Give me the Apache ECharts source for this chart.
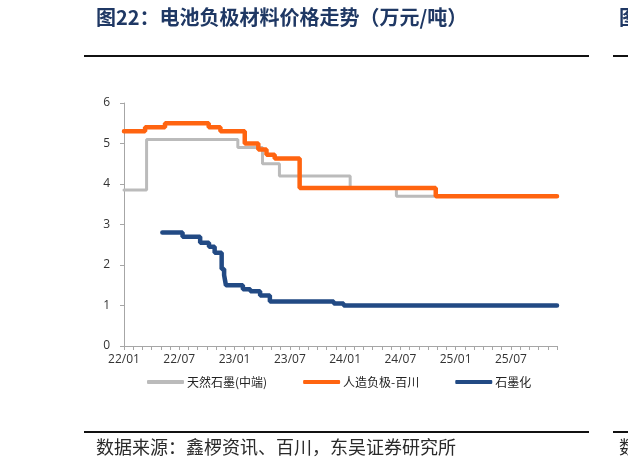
<!DOCTYPE html>
<html>
<head>
<meta charset="utf-8">
<script src="https://cdn.jsdelivr.net/npm/echarts@6/dist/echarts.min.js"></script>
<style>
html,body{margin:0;padding:0;background:#fff;}
#chart{width:628px;height:469px;}
</style>
</head>
<body>
<div id="chart"></div>
<script>
// ---- data (date of change, new price in 万元/吨) ----
const xTickLabels = ['22/01','22/07','23/01','23/07','24/01','24/07','25/01','25/07'];
const naturalDates  = ['2022-01-01','2022-03-15','2023-01-12','2023-04-02','2023-05-28','2024-01-18','2024-06-18','2025-12-01'];
const naturalValues = [3.85, 5.1, 4.9, 4.5, 4.2, 3.9, 3.7, 3.7];
const artificialDates  = ['2022-01-01','2022-03-10','2022-05-15','2022-10-07','2022-11-15','2023-02-04','2023-03-19','2023-04-15','2023-05-12','2023-08-03','2024-10-27','2025-12-01'];
const artificialValues = [5.3, 5.4, 5.5, 5.4, 5.3, 5.0, 4.85, 4.72, 4.63, 3.9, 3.7, 3.7];
const graphitDates  = ['2022-05-06','2022-07-12','2022-09-09','2022-10-08','2022-10-27','2022-11-19','2022-11-27','2022-12-03','2023-01-29','2023-02-21','2023-03-25','2023-04-26','2023-11-24','2023-12-27','2025-12-01'];
const graphitValues = [2.8, 2.7, 2.55, 2.45, 2.3, 1.9, 1.75, 1.5, 1.4, 1.35, 1.25, 1.1, 1.05, 1.0, 1.0];
const seriesNames = ['天然石墨(中端)','人造负极-百川','石墨化'];

function toMonth(s){
  const [y,m,d] = s.split('-').map(Number);
  const dim = new Date(y, m, 0).getDate();
  return (y-2022)*12 + (m-1) + (d-1)/dim;
}
function pairs(ds, vs){ return ds.map((d,i)=>[toMonth(d), vs[i]]); }

const chart = echarts.init(document.getElementById('chart'), null, {renderer:'canvas'});
const cjk = '"Noto Sans CJK SC", sans-serif';
const numFont = '"Open Sans", "Noto Sans", sans-serif';

chart.setOption({
  backgroundColor:'#ffffff',
  animation:false,
  title:{
    text:'图22：电池负极材料价格走势（万元/吨）',
    left:96, top:7, padding:0,
    textStyle:{fontFamily:cjk, fontSize:20, fontWeight:'bold', color:'#1F3864'}
  },
  graphic:[
    {type:'line', shape:{x1:84,y1:56,x2:589,y2:56}, style:{stroke:'#111',lineWidth:2}},
    {type:'line', shape:{x1:613,y1:56,x2:628,y2:56}, style:{stroke:'#111',lineWidth:2}},
    {type:'line', shape:{x1:84,y1:432,x2:589,y2:432}, style:{stroke:'#111',lineWidth:2}},
    {type:'line', shape:{x1:613,y1:432,x2:628,y2:432}, style:{stroke:'#111',lineWidth:2}},
    {type:'text', left:96, top:438, style:{text:'数据来源：鑫椤资讯、百川，东吴证券研究所', font:'18px "Noto Sans CJK SC"', fill:'#2a2a2a'}},
    {type:'text', left:619, top:7, style:{text:'图', font:'bold 20px "Noto Sans CJK SC"', fill:'#1F3864'}},
    {type:'text', left:619, top:438, style:{text:'数', font:'18px "Noto Sans CJK SC"', fill:'#2a2a2a'}}
  ],
  legend:{
    left:147, top:376, padding:0,
    itemWidth:37, itemHeight:4, itemGap:36,
    icon:'roundRect',
    textStyle:{fontFamily:cjk, fontSize:12, color:'#222', padding:[0,0,0,-2]},
    data:seriesNames
  },
  grid:{left:124, right:71, top:103, bottom:123, containLabel:false, outerBoundsMode:'none'},
  xAxis:{
    type:'value', min:0, max:47, interval:1,
    axisLine:{show:true, lineStyle:{color:'#a6a6a6', width:1}},
    axisTick:{show:true, length:4, lineStyle:{color:'#a6a6a6'}},
    splitLine:{show:false},
    axisLabel:{
      margin:8, fontFamily:numFont, fontSize:12, color:'#333',
      formatter:function(v){ return (v % 6 === 0 && xTickLabels[v/6]) ? xTickLabels[v/6] : ''; }
    }
  },
  yAxis:{
    type:'value', min:0, max:6, interval:1,
    axisLine:{show:true, lineStyle:{color:'#a6a6a6', width:1}},
    axisTick:{show:true, length:4, lineStyle:{color:'#a6a6a6'}},
    splitLine:{show:false},
    axisLabel:{margin:14, fontFamily:numFont, fontSize:12, color:'#333'}
  },
  series:[
    {name:seriesNames[0], type:'line', step:'end', showSymbol:false, symbol:'none',
     data:pairs(naturalDates, naturalValues),
     itemStyle:{color:'#BBBBBB'}, lineStyle:{color:'#BBBBBB', width:3, cap:'round'}},
    {name:seriesNames[1], type:'line', step:'end', showSymbol:false, symbol:'none',
     data:pairs(artificialDates, artificialValues),
     itemStyle:{color:'#FF6410'}, lineStyle:{color:'#FF6410', width:4.5, cap:'round'}},
    {name:seriesNames[2], type:'line', step:'end', showSymbol:false, symbol:'none',
     data:pairs(graphitDates, graphitValues),
     itemStyle:{color:'#224A84'}, lineStyle:{color:'#224A84', width:4.5, cap:'round'}}
  ]
});
</script>
</body>
</html>
